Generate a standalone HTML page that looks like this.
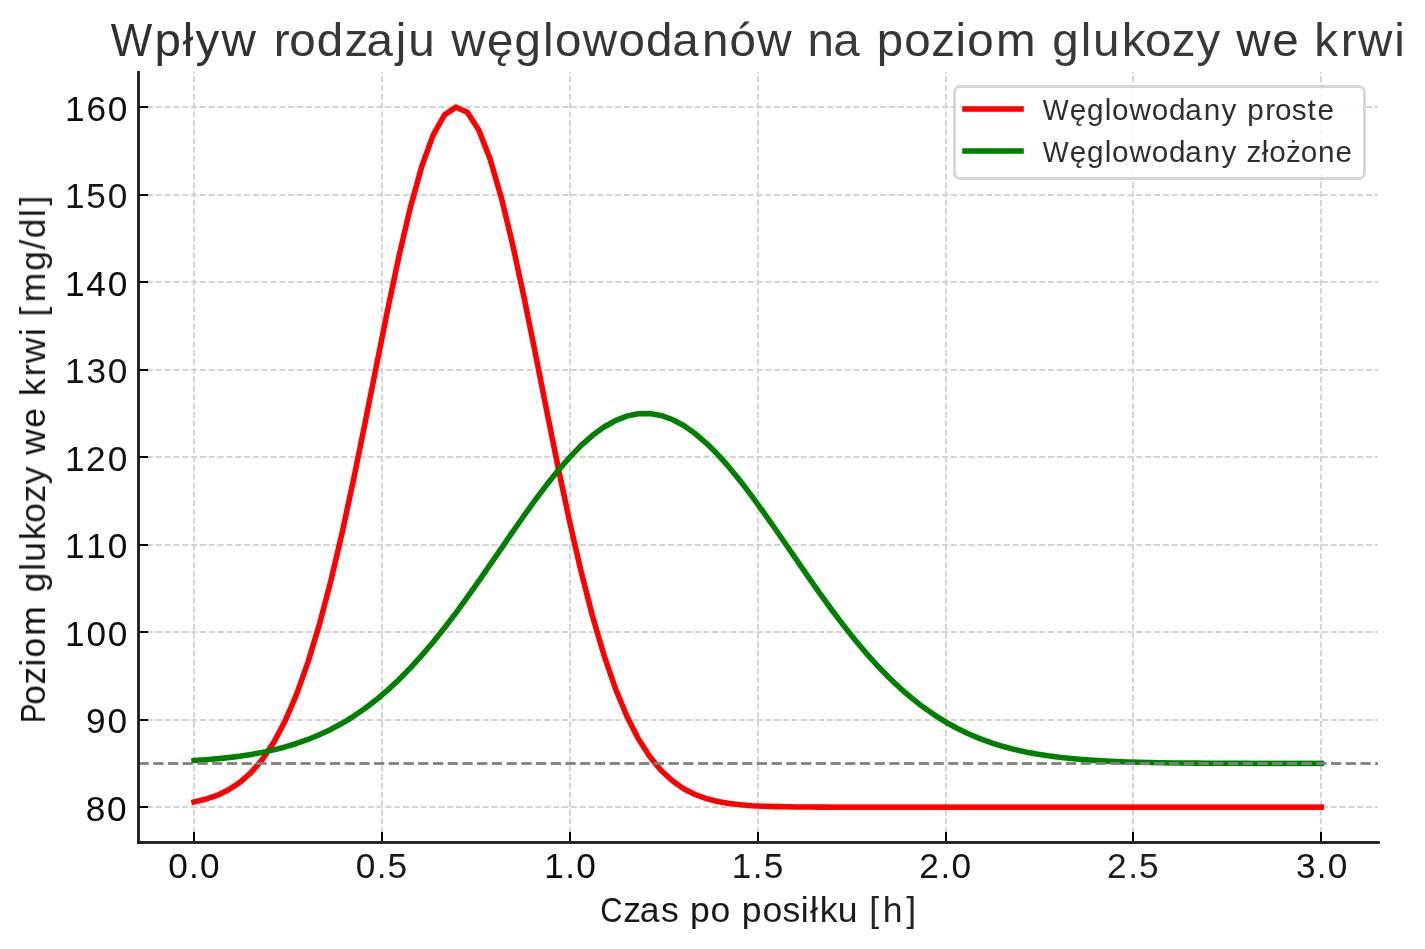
<!DOCTYPE html>
<html lang="pl">
<head>
<meta charset="utf-8">
<title>Wpływ rodzaju węglowodanów na poziom glukozy we krwi</title>
<style>
html,body{margin:0;padding:0;background:#ffffff;}
body{width:1425px;height:949px;overflow:hidden;font-family:"Liberation Sans",sans-serif;}
svg{display:block;position:absolute;left:0;top:0;}
text{font-family:"Liberation Sans",sans-serif;}
</style>
</head>
<body>
<svg width="1425" height="949" viewBox="0 0 1425 949">
<rect x="0" y="0" width="1425" height="949" fill="#ffffff"/>
<g stroke="#d4d4d4" stroke-width="2" stroke-dasharray="6.167 2.667" fill="none">
<path d="M194 842V72"/>
<path d="M382 842V72"/>
<path d="M570 842V72"/>
<path d="M758 842V72"/>
<path d="M946 842V72"/>
<path d="M1133 842V72"/>
<path d="M1321 842V72"/>
<path d="M138 807H1378"/>
<path d="M138 720H1378"/>
<path d="M138 632H1378"/>
<path d="M138 545H1378"/>
<path d="M138 457H1378"/>
<path d="M138 370H1378"/>
<path d="M138 282H1378"/>
<path d="M138 195H1378"/>
<path d="M138 107H1378"/>
</g>
<g stroke="#000" stroke-width="2" fill="none">
<path d="M194 842.5V832"/>
<path d="M382 842.5V832"/>
<path d="M570 842.5V832"/>
<path d="M758 842.5V832"/>
<path d="M946 842.5V832"/>
<path d="M1133 842.5V832"/>
<path d="M1321 842.5V832"/>
<path d="M138.5 807H148"/>
<path d="M138.5 720H148"/>
<path d="M138.5 632H148"/>
<path d="M138.5 545H148"/>
<path d="M138.5 457H148"/>
<path d="M138.5 370H148"/>
<path d="M138.5 282H148"/>
<path d="M138.5 195H148"/>
<path d="M138.5 107H148"/>
</g>
<clipPath id="cr"><rect x="0" y="0" width="830" height="949"/></clipPath><clipPath id="cg"><rect x="0" y="0" width="1250" height="949"/></clipPath>
<polyline clip-path="url(#cr)" points="194.07,801.96 205.46,799.27 216.85,795.43 228.23,790.03 239.62,782.61 251.01,772.61 262.39,759.42 273.78,742.40 285.17,720.91 296.55,694.38 307.94,662.37 319.33,624.67 330.71,581.34 342.10,532.81 353.49,479.91 364.87,423.92 376.26,366.51 387.65,309.73 399.03,255.84 410.42,207.24 421.81,166.24 433.19,134.89 444.58,114.84 455.97,107.17 467.35,112.29 478.74,129.93 490.13,159.13 501.51,198.36 512.90,245.62 524.28,298.64 535.67,355.03 547.06,412.49 558.44,468.91 569.83,522.55 581.22,572.03 592.60,616.45 603.99,655.29 615.38,688.43 626.76,716.02 638.15,738.47 649.54,756.34 660.92,770.24 672.31,780.83 683.70,788.73 695.08,794.49 706.47,798.61 717.86,801.50 729.24,803.48 740.63,804.81 752.02,805.69 763.40,806.26 774.79,806.62 786.18,806.84 797.56,806.98 808.95,807.06 820.34,807.11 831.72,807.14 843.11,807.15 854.50,807.16 865.88,807.16 877.27,807.17 888.66,807.17" fill="none" stroke="#ff0000" stroke-width="5.556" stroke-linejoin="round" stroke-linecap="square"/>
<rect x="830" y="804.392" width="494.12" height="5.556" fill="#ff0000"/>
<polyline clip-path="url(#cg)" points="194.07,760.54 205.46,759.76 216.85,758.79 228.23,757.62 239.62,756.18 251.01,754.45 262.39,752.37 273.78,749.88 285.17,746.95 296.55,743.49 307.94,739.46 319.33,734.79 330.71,729.42 342.10,723.28 353.49,716.33 364.87,708.51 376.26,699.78 387.65,690.11 399.03,679.49 410.42,667.92 421.81,655.41 433.19,642.02 444.58,627.79 455.97,612.83 467.35,597.23 478.74,581.13 490.13,564.70 501.51,548.11 512.90,531.55 524.28,515.25 535.67,499.42 547.06,484.30 558.44,470.11 569.83,457.08 581.22,445.42 592.60,435.34 603.99,427.00 615.38,420.55 626.76,416.12 638.15,413.77 649.54,413.56 660.92,415.48 672.31,419.50 683.70,425.55 695.08,433.52 706.47,443.27 717.86,454.63 729.24,467.40 740.63,481.38 752.02,496.33 763.40,512.04 774.79,528.26 786.18,544.79 797.56,561.39 808.95,577.87 820.34,594.04 831.72,609.75 843.11,624.86 854.50,639.24 865.88,652.80 877.27,665.49 888.66,677.25 900.04,688.06 911.43,697.92 922.82,706.83 934.20,714.83 945.59,721.96 956.98,728.25 968.36,733.77 979.75,738.58 991.14,742.73 1002.52,746.30 1013.91,749.34 1025.29,751.90 1036.68,754.06 1048.07,755.86 1059.45,757.35 1070.84,758.58 1082.23,759.58 1093.61,760.39 1105.00,761.05 1116.39,761.57 1127.77,761.99 1139.16,762.32 1150.55,762.58 1161.93,762.78 1173.32,762.94 1184.71,763.06 1196.09,763.15 1207.48,763.22 1218.87,763.27 1230.25,763.31 1241.64,763.34 1253.03,763.36 1264.41,763.38 1275.80,763.39 1287.19,763.40" fill="none" stroke="#008000" stroke-width="5.556" stroke-linejoin="round" stroke-linecap="square"/>
<rect x="1250" y="760.616" width="74.12" height="5.556" fill="#008000"/>
<g stroke-width="1" stroke-dasharray="10.278 4.444" fill="none"><path d="M138.5 762.5H1378" stroke="#808080" stroke-opacity="0.898"/><path d="M138.5 763.5H1378" stroke="#808080"/><path d="M138.5 764.5H1378" stroke="#808080" stroke-opacity="0.898"/></g>
<g stroke-width="1" fill="none"><path d="M137.11 841.5H1379.89" stroke="#323232"/><path d="M137.11 842.5H1379.89" stroke="#1a1a1a"/><path d="M137.11 843.5H1379.89" stroke="#323232"/></g>
<path d="M138.5 71.11V843.89" stroke="#1a1a1a" stroke-width="2.778" fill="none"/>
<rect x="954.5" y="86.5" width="410" height="92" rx="5.56" ry="5.56" fill="#ffffff" fill-opacity="0.8" stroke="#cccccc" stroke-opacity="0.8" stroke-width="2.778"/>
<rect x="962.22" y="106.222" width="61.56" height="5.556" fill="#ff0000"/>
<rect x="962.22" y="148.222" width="61.56" height="5.556" fill="#008000"/>
<g opacity="0.999">
<text transform="translate(0 56) scale(1.02 1)" font-size="46.6"><tspan fill="#303030"><tspan x="108.49" textLength="40.60" lengthAdjust="spacingAndGlyphs">W</tspan><tspan x="151.52 179.09 191.71 217.26">pływ</tspan></tspan> <tspan fill="#373737" x="268.35 283.67 310.6 337.67 359.3 387.87 400.18">rodzaju</tspan> <tspan fill="#363636" x="442.32 477.56 504.48 532.43 544.06 571.35 606.44 633.36 659.16 688.12 715.21 742.49">węglowodanów</tspan> <tspan fill="#3a3a3a" x="791.57 817">na</tspan> <tspan fill="#363636" x="859.67 886.61 912.92 936.7 948.32 976.57">poziom</tspan> <tspan fill="#3a3a3a" x="1031.69 1059.63 1071.64 1099.82 1122.6 1148.9 1173.04">glukozy</tspan> <tspan fill="#333333" x="1211.96 1247.2">we</tspan> <tspan fill="#373737" x="1288.45 1314.45 1331.35 1366.93">krwi</tspan></text>
<text transform="translate(0 922) scale(1.02 1)" font-size="34.9"><tspan fill="#181818"><tspan x="588.37" textLength="21.90" lengthAdjust="spacingAndGlyphs">C</tspan><tspan x="610.92 627.15 648.17">zas</tspan></tspan> <tspan fill="#171717" x="676.37 696.57">po</tspan> <tspan fill="#1b1b1b" x="727.31 747.51 767.26 784.94 794.13 803.65 821.23">posiłku</tspan> <tspan fill="#242424" x="852.31 865.51 888.39">[h]</tspan></text>
<text transform="translate(45 949) rotate(-90) scale(1.02 1)" font-size="34.9"><tspan fill="#121212"><tspan x="221.5" textLength="19.22" lengthAdjust="spacingAndGlyphs">P</tspan><tspan x="239.44 259.17 277.01 285.73 306.93">oziom</tspan></tspan> <tspan fill="#1a1a1a" x="349.7 370.65 379.68 400.81 417.85 437.57 455.68">glukozy</tspan> <tspan fill="#101010" x="484.61 511.04">we</tspan> <tspan fill="#161616" x="542.08 561.57 574.25 600.92">krwi</tspan> <tspan fill="#1d1d1d" x="620.01 634.02 664.89 685.84 696.68 717.63 728.88">[mg/dl]</tspan></text>
<text transform="translate(0 878) scale(0.985 1)" font-size="35.75"><tspan fill="#0e0e0e" x="170.73 191.85 203.06">0.0</tspan></text>
<text transform="translate(0 878) scale(0.985 1)" font-size="35.75"><tspan fill="#191919" x="361.27 382.39 393.46">0.5</tspan></text>
<text transform="translate(0 878) scale(0.985 1)" font-size="35.75"><tspan fill="#0d0d0d" x="552.45 573.76 584.97">1.0</tspan></text>
<text transform="translate(0 878) scale(0.985 1)" font-size="35.75"><tspan fill="#1a1a1a" x="743 764.31 775.37">1.5</tspan></text>
<text transform="translate(0 878) scale(0.985 1)" font-size="35.75"><tspan fill="#121212" x="933.28 954.85 966.06">2.0</tspan></text>
<text transform="translate(0 878) scale(0.985 1)" font-size="35.75"><tspan fill="#1e1e1e" x="1123.83 1145.4 1156.46">2.5</tspan></text>
<text transform="translate(0 878) scale(0.985 1)" font-size="35.75"><tspan fill="#161616" x="1315.62 1336.7 1347.9">3.0</tspan></text>
<text transform="translate(0 121) scale(0.985 1)" font-size="35.75"><tspan fill="#0c0c0c" x="65.98 87.72 109.28">160</tspan></text>
<text transform="translate(0 208) scale(0.985 1)" font-size="35.75"><tspan fill="#161616" x="66.06 87.66 109.35">150</tspan></text>
<text transform="translate(0 296) scale(0.985 1)" font-size="35.75"><tspan fill="#090909" x="65.97 87.69 109.27">140</tspan></text>
<text transform="translate(0 383) scale(0.985 1)" font-size="35.75"><tspan fill="#141414" x="66.08 87.87 109.38">130</tspan></text>
<text transform="translate(0 471) scale(0.985 1)" font-size="35.75"><tspan fill="#111111" x="66.11 87.41 109.41">120</tspan></text>
<text transform="translate(0 558) scale(0.985 1)" font-size="35.75"><tspan fill="#0d0d0d" x="66.02 87.58 109.32">110</tspan></text>
<text transform="translate(0 646) scale(0.985 1)" font-size="35.75"><tspan fill="#0e0e0e" x="66.01 87.75 109.3">100</tspan></text>
<text transform="translate(0 733) scale(0.985 1)" font-size="35.75"><tspan fill="#0e0e0e" x="87.38 109.04">90</tspan></text>
<text transform="translate(0 821) scale(0.985 1)" font-size="35.75"><tspan fill="#060606" x="87.14 108.7">80</tspan></text>
<text transform="translate(0 120) scale(1.02 1)" font-size="29.1"><tspan fill="#2e2e2e"><tspan x="1022.36" textLength="25.36" lengthAdjust="spacingAndGlyphs">W</tspan><tspan x="1048.82 1065.61 1083.05 1090.3 1107.31 1129.2 1145.98 1162.07 1180.12 1197.55">ęglowodany</tspan></tspan> <tspan fill="#2e2e2e" x="1222.74 1240.55 1250.12 1266.52 1281.92 1291.69">proste</tspan></text>
<text transform="translate(0 162) scale(1.02 1)" font-size="29.1"><tspan fill="#2e2e2e"><tspan x="1022.36" textLength="25.36" lengthAdjust="spacingAndGlyphs">W</tspan><tspan x="1048.82 1065.61 1083.05 1090.3 1107.31 1129.2 1145.98 1162.07 1180.12 1197.55">ęglowodany</tspan></tspan> <tspan fill="#2f2f2f" x="1222.12 1237.05 1244.38 1260.77 1275.3 1292.28 1309.27">złożone</tspan></text>
</g>
</svg>
</body>
</html>
